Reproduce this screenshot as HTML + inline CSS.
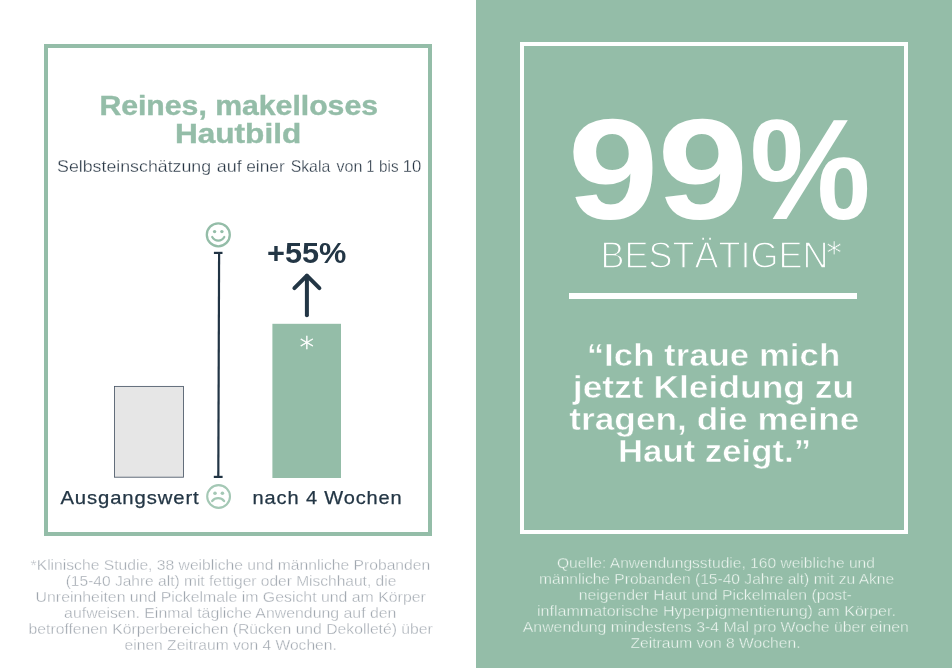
<!DOCTYPE html>
<html lang="de">
<head>
<meta charset="utf-8">
<title>Reines, makelloses Hautbild</title>
<style>
html,body{margin:0;padding:0;background:#fff;}
body{width:952px;height:668px;overflow:hidden;position:relative;font-family:"Liberation Sans",sans-serif;}
svg{position:absolute;left:0;top:0;display:block;}
text{font-family:"Liberation Sans",sans-serif;}
.b{font-weight:700;}
</style>
</head>
<body>
<svg width="952" height="668" viewBox="0 0 952 668">
  <!-- backgrounds -->
  <rect x="0" y="0" width="476" height="668" fill="#ffffff"/>
  <rect x="476" y="0" width="476" height="668" fill="#94bda8"/>
  <!-- left frame -->
  <rect x="46" y="46" width="384" height="488" fill="none" stroke="#94bda8" stroke-width="4"/>
  <!-- right frame -->
  <rect x="522" y="44" width="384" height="488" fill="none" stroke="#ffffff" stroke-width="4"/>

  <!-- title -->
  <g class="b" fill="#94bda8" font-size="27.3" stroke="#94bda8" stroke-width="0.4">
    <text x="99.4" y="115.3" textLength="278.6" lengthAdjust="spacingAndGlyphs">Reines, makelloses</text>
    <text x="175" y="143.3" textLength="126.2" lengthAdjust="spacingAndGlyphs">Hautbild</text>
  </g>
  <text y="171.8" font-size="16.5" fill="#273543" stroke="#ffffff" stroke-width="0.3"><tspan x="57.07" textLength="154.04" lengthAdjust="spacingAndGlyphs">Selbsteinschätzung</tspan> <tspan x="216.78" textLength="25.0" lengthAdjust="spacingAndGlyphs">auf</tspan> <tspan x="246.18" textLength="38.52" lengthAdjust="spacingAndGlyphs">einer</tspan> <tspan x="290.67" textLength="39.56" lengthAdjust="spacingAndGlyphs">Skala</tspan> <tspan x="336.47" textLength="25.82" lengthAdjust="spacingAndGlyphs">von</tspan> <tspan x="366.53" textLength="7.74" lengthAdjust="spacingAndGlyphs">1</tspan> <tspan x="379.05" textLength="19.51" lengthAdjust="spacingAndGlyphs">bis</tspan> <tspan x="402.66" textLength="18.54" lengthAdjust="spacingAndGlyphs">10</tspan></text>

  <!-- chart -->
  <rect x="114.5" y="386.4" width="69" height="90.8" fill="#e6e6e6" stroke="#4a5767" stroke-width="0.85"/>
  <rect x="272.4" y="323.8" width="68.6" height="154.2" fill="#94bda8"/>
  <!-- scale line -->
  <g stroke="#213444" stroke-width="2.2" fill="none">
    <line x1="219.1" y1="253" x2="218.3" y2="477"/>
    <line x1="213.9" y1="252.9" x2="222.5" y2="252.9"/>
    <line x1="213.8" y1="476.9" x2="222.6" y2="476.9"/>
  </g>
  <!-- happy face -->
  <g fill="none" stroke="#94bda8" stroke-width="2.3" stroke-linecap="round">
    <circle cx="218.3" cy="234.8" r="11.5"/>
    <path d="M212.2 237 A6.9 6.9 0 0 0 224.3 237" stroke-width="2.2"/>
  </g>
  <circle cx="214.6" cy="231.6" r="1.7" fill="#94bda8"/>
  <circle cx="221.9" cy="231.6" r="1.7" fill="#94bda8"/>
  <!-- sad face -->
  <g fill="none" stroke="#a4c8b5" stroke-width="2.1" stroke-linecap="round">
    <circle cx="218.6" cy="496.5" r="11.4"/>
    <path d="M212.2 501 A7.7 7.7 0 0 1 224.1 501" stroke-width="2.3"/>
  </g>
  <circle cx="215" cy="493.2" r="1.8" fill="#a4c8b5"/>
  <circle cx="222.4" cy="493.2" r="1.8" fill="#a4c8b5"/>

  <!-- +55% -->
  <text class="b" x="267" y="263.2" font-size="30" fill="#233645" textLength="79.4" lengthAdjust="spacingAndGlyphs">+55%</text>
  <g fill="none" stroke="#233645" stroke-width="4" stroke-linecap="round" stroke-linejoin="round">
    <path d="M306.9 315.2 V276"/>
    <path d="M294.4 288.2 L306.9 275.7 L319.4 288.2"/>
  </g>
  <text x="306.9" y="357.3" font-size="28.4" fill="#ffffff" stroke="#ffffff" stroke-width="0.5" text-anchor="middle" style="font-family:'DejaVu Sans',sans-serif;font-weight:200">*</text>

  <!-- axis labels -->
  <g fill="#233645" font-size="18.2" letter-spacing="0.8" stroke="#233645" stroke-width="0.25">
    <text x="60.4" y="504" textLength="139.2" lengthAdjust="spacingAndGlyphs">Ausgangswert</text>
    <text x="252.6" y="504" textLength="150" lengthAdjust="spacingAndGlyphs">nach 4 Wochen</text>
  </g>

  <!-- left footnote -->
  <g fill="#a0a7af" font-size="14.6" stroke="#ffffff" stroke-width="0.35">
    <text x="30.6" y="570" textLength="399.6" lengthAdjust="spacingAndGlyphs">*Klinische Studie, 38 weibliche und männliche Probanden</text>
    <text x="65.7" y="586" textLength="330.6" lengthAdjust="spacingAndGlyphs">(15-40 Jahre alt) mit fettiger oder Mischhaut, die</text>
    <text x="35.6" y="602" textLength="390.2" lengthAdjust="spacingAndGlyphs">Unreinheiten und Pickelmale im Gesicht und am Körper</text>
    <text x="64.1" y="618" textLength="332.3" lengthAdjust="spacingAndGlyphs">aufweisen. Einmal tägliche Anwendung auf den</text>
    <text x="28.6" y="634" textLength="404.2" lengthAdjust="spacingAndGlyphs">betroffenen Körperbereichen (Rücken und Dekolleté) über</text>
    <text x="124.6" y="650" textLength="212.2" lengthAdjust="spacingAndGlyphs">einen Zeitraum von 4 Wochen.</text>
  </g>

  <!-- 99% -->
  <text class="b" font-size="143" fill="#ffffff" y="219.1"><tspan x="567.84" textLength="90.73" lengthAdjust="spacingAndGlyphs">9</tspan><tspan x="657.64" textLength="90.73" lengthAdjust="spacingAndGlyphs">9</tspan><tspan x="749.65" textLength="120.95" lengthAdjust="spacingAndGlyphs">%</tspan></text>
  <text y="267.9" font-size="37.2" fill="#ffffff" stroke="#94bda8" stroke-width="1.3"><tspan x="600.4" textLength="228" lengthAdjust="spacingAndGlyphs">BESTÄTIGEN</tspan><tspan x="826.4" y="262.8" font-size="30.5" stroke-width="0.6" style="font-family:'DejaVu Sans',sans-serif">*</tspan></text>
  <rect x="569" y="293" width="288" height="6" fill="#ffffff"/>

  <!-- quote -->
  <g class="b" fill="#ffffff" font-size="32" stroke="#94bda8" stroke-width="0.5">
    <text x="586.7" y="366" textLength="253.5" lengthAdjust="spacingAndGlyphs">“Ich traue mich</text>
    <text x="572.8" y="397.7" textLength="281.3" lengthAdjust="spacingAndGlyphs">jetzt Kleidung zu</text>
    <text x="569.3" y="429.5" textLength="290" lengthAdjust="spacingAndGlyphs">tragen, die meine</text>
    <text x="618" y="461.6" textLength="193" lengthAdjust="spacingAndGlyphs">Haut zeigt.”</text>
  </g>

  <!-- right footnote -->
  <g fill="#eef6f1" font-size="14.6" stroke="#94bda8" stroke-width="0.35">
    <text x="556.9" y="567.7" textLength="318" lengthAdjust="spacingAndGlyphs">Quelle: Anwendungsstudie, 160 weibliche und</text>
    <text x="539" y="583.7" textLength="355.2" lengthAdjust="spacingAndGlyphs">männliche Probanden (15-40 Jahre alt) mit zu Akne</text>
    <text x="578.7" y="599.7" textLength="273.2" lengthAdjust="spacingAndGlyphs">neigender Haut und Pickelmalen (post-</text>
    <text x="537" y="615.7" textLength="359" lengthAdjust="spacingAndGlyphs">inflammatorische Hyperpigmentierung) am Körper.</text>
    <text x="522.8" y="631.7" textLength="386" lengthAdjust="spacingAndGlyphs">Anwendung mindestens 3-4 Mal pro Woche über einen</text>
    <text x="630.5" y="647.7" textLength="170" lengthAdjust="spacingAndGlyphs">Zeitraum von 8 Wochen.</text>
  </g>
</svg>
</body>
</html>
